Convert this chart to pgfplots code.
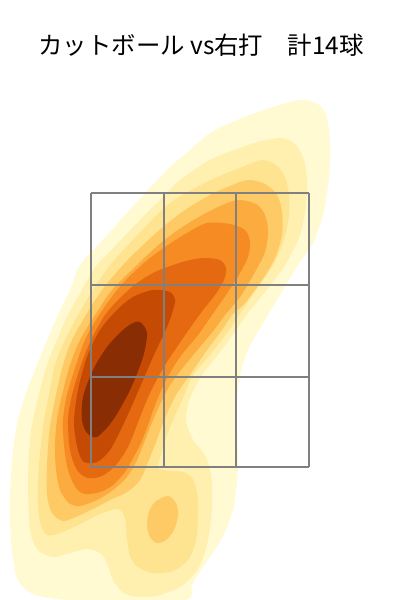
\documentclass[border=0pt]{standalone}
\usepackage{fontspec}
\setmainfont{Noto Sans CJK JP}
\usepackage{pgfplots}
\pgfplotsset{compat=1.18}
\definecolor{c1}{RGB}{255,250,210}
\definecolor{c2}{RGB}{255,240,175}
\definecolor{c3}{RGB}{254,227,145}
\definecolor{c4}{RGB}{253,202,102}
\definecolor{c5}{RGB}{252,171,62}
\definecolor{c6}{RGB}{246,138,35}
\definecolor{c7}{RGB}{229,105,16}
\definecolor{c8}{RGB}{197,74,3}
\definecolor{c9}{RGB}{136,45,4}
\definecolor{gridc}{RGB}{128,128,128}
\begin{document}
\begin{tikzpicture}
\path (0,0) rectangle (400bp,600bp);
\begin{axis}[width=400bp,height=600bp,scale only axis,
  xmin=0,xmax=400,ymin=0,ymax=600,y dir=reverse,hide axis,clip=true]
% level 1
\addplot[fill=c1,draw=none,smooth cycle,tension=0.5] coordinates {
(300,100)(318,104)(327,118)(330,145)(329,178)(323,215)(313,243)(298,265)(280,295)(262,325)(248,350)(240,375)(237,400)(237,430)(238,467)(236,490)(233,510)(226,530)(215,550)(203,567)(192,585)(186,600)(120,601)(67,600)(33,594)(17,578)(11,540)(10,497)(13,450)(18,420)(27,390)(37,365)(47,340)(58,315)(70,290)(80,265)(100,243)(125,215)(148,190)(170,167)(190,150)(210,133)(237,120)(270,108)};
% level 2
\addplot[fill=c2,draw=none,smooth cycle,tension=0.5] coordinates {
(282,138)(296,145)(304,160)(307,180)(306,205)(300,235)(285,265)(265,292)(248,313)(236,330)(220,352)(202,375)(190,398)(186,420)(193,440)(205,455)(211,475)(212,505)(208,540)(199,567)(183,585)(160,595)(140,597)(124,593)(113,580)(107,563)(100,553)(87,549)(70,553)(53,557)(38,550)(30,530)(28,480)(30,440)(33,420)(40,390)(47,365)(57,340)(68,315)(82,290)(97,265)(118,243)(140,220)(160,200)(180,180)(210,160)(237,149)(258,142)};
% level 3
\addplot[fill=c3,draw=none,smooth cycle,tension=0.5] coordinates {
(262,160)(276,165)(285,177)(289,195)(289,215)(284,240)(273,265)(256,290)(239,315)(229,330)(210,355)(193,375)(183,398)(173,420)(165,440)(160,458)(158,468)(170,471)(183,472)(192,478)(197,492)(198,513)(196,540)(188,560)(173,571)(153,573)(138,567)(130,556)(127,538)(125,518)(118,509)(100,514)(80,524)(60,533)(47,535)(40,522)(38,497)(39,465)(42,435)(44,420)(49,395)(55,365)(65,340)(78,315)(93,290)(110,265)(130,243)(150,222)(170,203)(195,188)(222,175)(245,166)};
% level 4 main
\addplot[fill=c4,draw=none,smooth cycle,tension=0.5] coordinates {
(248,180)(265,184)(277,195)(282,212)(282,235)(275,258)(262,280)(245,303)(232,315)(222,330)(207,350)(192,372)(176,395)(165,418)(156,442)(148,462)(140,480)(127,492)(110,500)(95,508)(78,516)(63,521)(52,513)(47,495)(47,465)(49,435)(51,420)(56,395)(63,365)(72,340)(86,315)(102,290)(123,265)(143,245)(163,227)(185,210)(210,195)(230,186)};
% level 4 blob
\addplot[fill=c4,draw=none,smooth cycle,tension=0.5] coordinates {
(168,496)(176,503)(178,515)(174,530)(166,540)(157,543)(150,537)(147,525)(149,512)(155,502)};
% level 5
\addplot[fill=c5,draw=none,smooth cycle,tension=0.5] coordinates {
(238,200)(256,204)(265,215)(268,232)(265,252)(255,272)(240,297)(225,315)(214,330)(199,348)(185,365)(172,382)(162,400)(153,420)(145,440)(137,460)(127,477)(113,490)(97,500)(80,506)(69,503)(60,490)(56,470)(55,445)(57,420)(62,395)(70,365)(80,340)(95,315)(112,290)(137,265)(155,248)(175,232)(197,218)(218,207)};
% level 6
\addplot[fill=c6,draw=none,smooth cycle,tension=0.5] coordinates {
(207,223)(230,224)(245,230)(250,242)(248,257)(240,273)(228,292)(212,315)(198,335)(180,357)(166,380)(155,405)(148,425)(140,445)(133,458)(125,472)(113,485)(100,492)(85,494)(76,488)(68,470)(64,445)(63,420)(67,395)(76,365)(85,340)(99,315)(117,290)(133,273)(150,258)(168,245)(187,233)};
% level 7
\addplot[fill=c7,draw=none,smooth cycle,tension=0.5] coordinates {
(205,258)(220,260)(226,268)(224,280)(215,295)(203,310)(190,328)(177,347)(165,365)(155,383)(146,402)(137,425)(128,447)(116,465)(102,476)(88,478)(77,470)(70,450)(68,420)(72,395)(81,365)(91,340)(105,315)(120,298)(137,283)(155,272)(173,265)(190,260)};
% level 8
\addplot[fill=c8,draw=none,smooth cycle,tension=0.5] coordinates {
(153,290)(170,292)(175,300)(173,310)(167,327)(153,357)(140,387)(124,423)(110,450)(97,462)(84,462)(78,450)(74,423)(78,390)(87,357)(100,330)(117,310)(133,297)};
% level 9
\addplot[fill=c9,draw=none,smooth cycle,tension=0.5] coordinates {
(133,323)(140,322)(147,333)(143,357)(130,390)(113,420)(97,437)(87,433)(82,420)(83,397)(93,370)(107,347)(123,330)};
% strike zone grid
\addplot[gridc,line width=1.3pt] coordinates {(91,193)(309,193)};
\addplot[gridc,line width=1.3pt] coordinates {(91,285)(309,285)};
\addplot[gridc,line width=1.3pt] coordinates {(91,377)(309,377)};
\addplot[gridc,line width=1.3pt] coordinates {(91,467)(309,467)};
\addplot[gridc,line width=1.3pt] coordinates {(91,193)(91,467)};
\addplot[gridc,line width=1.3pt] coordinates {(164,193)(164,467)};
\addplot[gridc,line width=1.3pt] coordinates {(236,193)(236,467)};
\addplot[gridc,line width=1.3pt] coordinates {(309,193)(309,467)};
\end{axis}
\node[font=\fontsize{24.5}{28}\selectfont,anchor=center,inner sep=0pt] at (201bp,555bp) {カットボール vs右打　計14球};
\end{tikzpicture}
\end{document}
